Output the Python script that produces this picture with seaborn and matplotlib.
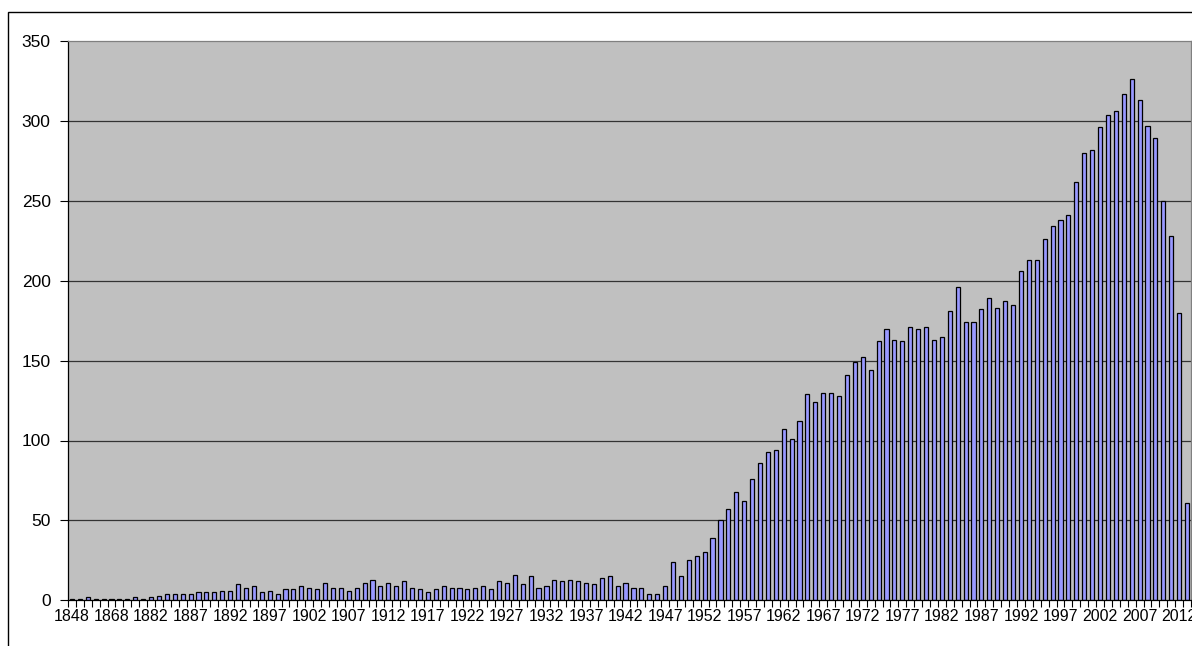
import matplotlib
matplotlib.use("Agg")
import matplotlib.pyplot as plt
from matplotlib.patches import Rectangle
import seaborn as sns
import pandas as pd

# Years on the category axis (early records are sparse, yearly from 1882)
early_years = [1848, 1852, 1856, 1860, 1864, 1868, 1872, 1876, 1879, 1881]
early_counts = [1, 1, 2, 1, 1, 1, 1, 1, 2, 1]

yearly_start = 1882
yearly_counts = [
    2, 3, 4, 4, 4, 4, 5, 5, 5, 6,            # 1882-1891
    6, 10, 8, 9, 5, 6, 4, 7, 7, 9,           # 1892-1901
    8, 7, 11, 8, 8, 6, 8, 11, 13, 9,         # 1902-1911
    11, 9, 12, 8, 7, 5, 7, 9, 8, 8,          # 1912-1921
    7, 8, 9, 7, 12, 11, 16, 10, 15, 8,       # 1922-1931
    9, 13, 12, 13, 12, 11, 10, 14, 15, 9,    # 1932-1941
    11, 8, 8, 4, 4, 9, 24, 15, 25, 28,       # 1942-1951
    30, 39, 50, 57, 68, 62, 76, 86, 93, 94,  # 1952-1961
    107, 101, 112, 129, 124, 130, 130, 128, 141, 149,  # 1962-1971
    152, 144, 162, 170, 163, 162, 171, 170, 171, 163,  # 1972-1981
    165, 181, 196, 174, 174, 182, 189, 183, 187, 185,  # 1982-1991
    206, 213, 213, 226, 234, 238, 241, 262, 280, 282,  # 1992-2001
    296, 304, 306, 317, 326, 313, 297, 289, 250, 228,  # 2002-2011
    180, 61,                                            # 2012-2013
]

years = early_years + list(range(yearly_start, yearly_start + len(yearly_counts)))
counts = early_counts + yearly_counts
df = pd.DataFrame({"year": [str(y) for y in years], "count": counts})

y_ticks = [0, 50, 100, 150, 200, 250, 300, 350]

W, H = 1192, 646
fig = plt.figure(figsize=(W / 100, H / 100), dpi=100)
fig.patch.set_facecolor("white")

left_px, right_px, top_px, zero_px = 68, 1191, 41, 600.3
ax = fig.add_axes([left_px / W, (H - zero_px) / H,
                   (right_px - left_px) / W, (zero_px - top_px) / H])
ax.set_facecolor("#C0C0C0")

sns.barplot(data=df, x="year", y="count", color="#9999FF", saturation=1,
            edgecolor="black", linewidth=0.9, width=0.52, ax=ax, zorder=3)

n = len(df)
ax.set_xlim(-0.5, n - 0.5)
ax.set_ylim(0, 350)

# horizontal gridlines
for v in y_ticks[1:-1]:
    ax.axhline(v, color="#333333", lw=0.9, zorder=1)

# category axis: label every fifth category, tick marks between categories
major = list(range(0, n, 5))
ax.set_xticks(major)
ax.set_xticklabels([df["year"][i] for i in major])
ax.set_xticks([i - 0.5 for i in range(n + 1)], minor=True)
ax.tick_params(axis="x", which="major", length=0, pad=6)
ax.tick_params(axis="x", which="minor", length=5, width=0.8,
               direction="out", color="black")

ax.set_yticks(y_ticks)
ax.tick_params(axis="y", length=6, width=0.8, direction="out",
               color="black", pad=6.5)

for lab in ax.get_xticklabels():
    lab.set_fontfamily("Liberation Sans")
    lab.set_fontsize(11.5)
    lab.set_color("black")
for lab in ax.get_yticklabels():
    lab.set_fontfamily("Liberation Sans")
    lab.set_fontsize(12.5)
    lab.set_color("black")

ax.set_xlabel("")
ax.set_ylabel("")

ax.spines["left"].set_color("black")
ax.spines["bottom"].set_color("black")
ax.spines["top"].set_color("#808080")
ax.spines["right"].set_color("#808080")
for s in ax.spines.values():
    s.set_linewidth(0.9)
    s.set_zorder(4)

# outer chart border
fig.patches.append(Rectangle((8 / W, -0.05), 1.2, (H - 12) / H + 0.05,
                             transform=fig.transFigure, fill=False,
                             edgecolor="black", lw=1.0))

fig.savefig("out.png", dpi=100)
